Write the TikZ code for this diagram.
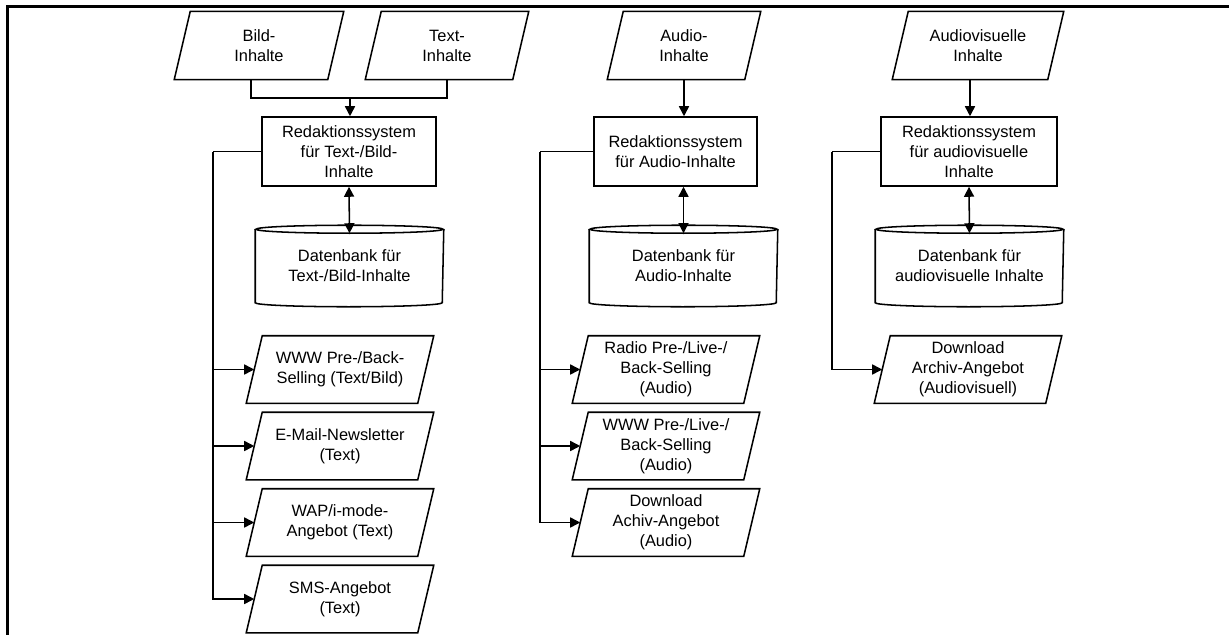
\documentclass[tikz,border=0pt]{standalone}
\usepackage{fontspec}
\setmainfont{Liberation Sans}
\usetikzlibrary{arrows.meta}

\tikzset{
  inhalt/.style={rectangle, minimum width=114pt, minimum height=50pt, inner sep=1pt, align=center},
  angebot/.style={inhalt, minimum width=127.5pt, minimum height=49.5pt},
  redsys/.style={draw, rectangle, minimum height=51.75pt, inner sep=1pt, align=center},
  datenbank/.style={rectangle, minimum width=140.25pt, minimum height=60pt, inner sep=1pt, align=center},
}

\begin{document}
\begin{tikzpicture}[x=0.75pt,y=-0.75pt, font=\fontsize{12.3}{15}\selectfont, line width=1.15pt,
    >={Triangle[length=7.5pt,width=7.5pt]}]
    \useasboundingbox (0,0) rectangle (1229,635);
    \draw[line width=2pt] (1229,6.5) -- (7.5,6.5) -- (7.5,635);

    \node[inhalt] (bild) at (259,45.5) {Bild-\\Inhalte};
    \node[inhalt, minimum width=109.5pt] (textin) at (447,45.5) {Text-\\Inhalte};
    \node[inhalt, minimum width=102pt] (audio) at (684,45.5) {Audio-\\Inhalte};
    \node[inhalt, minimum width=115.5pt] (av) at (978,45.5) {Audiovisuelle\\Inhalte};

    \node[redsys, minimum width=130.5pt] (red1) at (349,151.5) {Redaktionssystem\\für Text-/Bild-\\Inhalte};
    \node[redsys, minimum width=122.25pt] (red2) at (675.5,151.5) {Redaktionssystem\\für Audio-Inhalte};
    \node[redsys, minimum width=132pt] (red3) at (969,151.5) {Redaktionssystem\\für audiovisuelle\\Inhalte};

    \node[datenbank] (db1) at (349.5,266) {Datenbank für\\Text-/Bild-Inhalte};
    \node[datenbank] (db2) at (683.5,266) {Datenbank für\\Audio-Inhalte};
    \node[datenbank] (db3) at (969.5,266) {Datenbank für\\audiovisuelle Inhalte};
    \foreach \d in {db1,db2,db3} {
      \draw ([yshift=-3pt]\d.north) ellipse [x radius=70.125pt, y radius=3pt];
      \draw ([yshift=-3pt]\d.north west) -- ([yshift=3pt]\d.south west)
        arc [start angle=180, end angle=360, x radius=70.125pt, y radius=3pt] -- ([yshift=-3pt]\d.north east);
    }

    \node[angebot] (www1) at (340,369.5) {WWW Pre-/Back-\\Selling (Text/Bild)};
    \node[angebot] (mail) at (340,446) {E-Mail-Newsletter\\(Text)};
    \node[angebot] (wap) at (340,522.5) {WAP/i-mode-\\Angebot (Text)};
    \node[angebot] (sms) at (340,599) {SMS-Angebot\\(Text)};
    \node[angebot] (radio) at (666,369.5) {Radio Pre-/Live-/\\Back-Selling\\(Audio)};
    \node[angebot] (www2) at (666,446) {WWW Pre-/Live-/\\Back-Selling\\(Audio)};
    \node[angebot] (dl2) at (666,522.5) {Download\\Achiv-Angebot\\(Audio)};
    \node[angebot] (dl3) at (968,369.5) {Download\\Archiv-Angebot\\(Audiovisuell)};

    \foreach \p in {bild,textin,audio,av,www1,mail,wap,sms,radio,www2,dl2,dl3}
      \draw ([xshift=6pt]\p.north west) -- ([xshift=6pt]\p.north east)
        -- ([xshift=-6pt]\p.south east) -- ([xshift=-6pt]\p.south west) -- cycle;

    \coordinate (merge) at (350,98);
    \draw ([xshift=-6pt]bild.south) |- (merge) -| (textin.south);
    \draw[->] (merge) -- (merge |- red1.north);
    \draw[->] (audio.south) -- (audio.south |- red2.north);
    \draw[->] ([xshift=-6pt]av.south) -- ([xshift=-6pt]av.south |- red3.north);

    \draw[<->] (red1.south) -- ([yshift=-6pt]db1.north);
    \draw[<->] (red2.south -| db2.north) -- ([yshift=-6pt]db2.north);
    \draw[<->] (red3.south) -- ([yshift=-6pt]db3.north);

    \coordinate (ast1) at (213,151.5);
    \coordinate (ast2) at (540,151.5);
    \coordinate (ast3) at (832,151.5);
    \draw (red1.west) -- (ast1);
    \draw (red2.west) -- (ast2);
    \draw (red3.west) -- (ast3);
    \foreach \z in {www1,mail,wap,sms}
      \draw[->] (ast1) |- (\z.west);
    \foreach \z in {radio,www2,dl2}
      \draw[->] (ast2) |- (\z.west);
    \draw[->] (ast3) |- (dl3.west);
  \end{tikzpicture}
\end{document}
